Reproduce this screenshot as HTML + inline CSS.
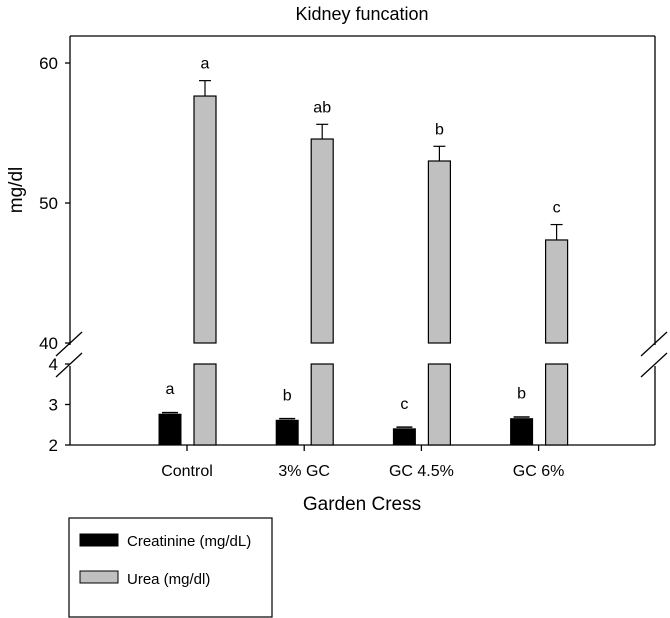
<!DOCTYPE html>
<html><head><meta charset="utf-8"><style>
html,body{margin:0;padding:0;background:#fff;}
svg{display:block;font-family:"Liberation Sans",Arial,sans-serif;}
</style></head><body>
<svg id="chart" width="670" height="618" viewBox="0 0 670 618">
<text x="362" y="20" text-anchor="middle" font-size="18">Kidney funcation</text>
<text transform="translate(22,190) rotate(-90)" text-anchor="middle" font-size="19">mg/dl</text>
<text x="362" y="510" text-anchor="middle" font-size="19">Garden Cress</text>
<g id="axes" stroke="#000" stroke-width="1.3" fill="none"></g>
<g id="marks"></g>
<g>
<rect x="69" y="518" width="203" height="99" fill="#fff" stroke="#000" stroke-width="1.2"/>
<rect x="80" y="534" width="38" height="12" fill="#000" stroke="#000"/>
<text x="127" y="546" font-size="15">Creatinine (mg/dL)</text>
<rect x="80" y="571" width="38" height="12" fill="#c0c0c0" stroke="#000"/>
<text x="127" y="584" font-size="15">Urea (mg/dl)</text>
</g>
</svg>
<script>
const categories = ["Control","3% GC","GC 4.5%","GC 6%"];
const creatinine = [2.76, 2.61, 2.40, 2.65];
const creatinineErr = [0.04, 0.04, 0.04, 0.04];
const creatinineLetters = ["a","b","c","b"];
const urea = [57.64, 54.57, 53.0, 47.36];
const ureaErr = [1.1, 1.05, 1.05, 1.1];
const ureaLetters = ["a","ab","b","c"];
const upperTicks = [40, 50, 60];
const lowerTicks = [2, 3, 4];

const NS = "http://www.w3.org/2000/svg";
const L = 70, R = 655, T = 36, B = 445;
function yUp(v){ return 343 - (v - 40) * 14; }
function yLo(v){ return 445 - (v - 2) * 40.5; }
function xCat(i){ return 187 + i * 117.2; }
function mk(tag, attrs, parent){ const e = document.createElementNS(NS, tag); for (const k in attrs) e.setAttribute(k, attrs[k]); parent.appendChild(e); return e; }
const axes = document.getElementById('axes');
const marks = document.getElementById('marks');
const svg = document.getElementById('chart');

let ln = mk('line',{x1:L,y1:T,x2:R,y2:T},axes);
 
ln = mk('line',{x1:L,y1:B,x2:R,y2:B},axes);
 
[L,R].forEach((x,j)=>{
  let a = mk('line',{x1:x,y1:T,x2:x,y2:345},axes);
   
  let b = mk('line',{x1:x,y1:366,x2:x,y2:B},axes);
   
  let s1 = mk('line',{x1:x-14,y1:356,x2:x+12,y2:332},axes);
   
  let s2 = mk('line',{x1:x-14,y1:377,x2:x+12,y2:353},axes);
   
});
upperTicks.forEach(v=>{
  const y = yUp(v);
  const t = mk('line',{x1:L-5,y1:y,x2:L,y2:y},axes);
   
  const tx = mk('text',{x:L-12,y:y+6,'text-anchor':'end','font-size':17},svg);
  tx.textContent = v;
   
});
lowerTicks.forEach(v=>{
  const y = yLo(v);
  const t = mk('line',{x1:L-5,y1:y,x2:L,y2:y},axes);
   
  const tx = mk('text',{x:L-12,y:y+6,'text-anchor':'end','font-size':17},svg);
  tx.textContent = v;
   
});
categories.forEach((c,i)=>{
  const x = xCat(i);
  const t = mk('line',{x1:x,y1:B,x2:x,y2:B+6},axes);
   
  const tx = mk('text',{x:x,y:476,'text-anchor':'middle','font-size':16},svg);
  tx.textContent = c;
   

  const cx = x - 28, w = 22;
  const cy = yLo(creatinine[i]);
  const cb = mk('rect',{x:cx,y:cy,width:w,height:B-cy,fill:'#000',stroke:'#000'},marks);
   
  const ce = yLo(creatinine[i]+creatinineErr[i]);
  const e1 = mk('line',{x1:cx+3,y1:ce,x2:cx+w-3,y2:ce,stroke:'#000','stroke-width':1.5},marks);
   
  const cl = mk('text',{x:cx+w/2,y:cy-20,'text-anchor':'middle','font-size':16},marks);
  cl.textContent = creatinineLetters[i];
   

  const ux = x + 7;
  const uy = yUp(urea[i]);
  const ub = mk('rect',{x:ux,y:uy,width:w,height:yUp(40)-uy,fill:'#c0c0c0',stroke:'#000','stroke-width':1.2},marks);
   
  const ul = mk('rect',{x:ux,y:yLo(4),width:w,height:B-yLo(4),fill:'#c0c0c0',stroke:'#000','stroke-width':1.2},marks);
   
  const ue = yUp(urea[i]+ureaErr[i]);
  const ev = mk('line',{x1:ux+w/2,y1:uy,x2:ux+w/2,y2:ue,stroke:'#000','stroke-width':1.2},marks);
   
  const ec = mk('line',{x1:ux+w/2-6,y1:ue,x2:ux+w/2+6,y2:ue,stroke:'#000','stroke-width':1.2},marks);
   
  const ut = mk('text',{x:ux+w/2,y:ue-12,'text-anchor':'middle','font-size':16},marks);
  ut.textContent = ureaLetters[i];
   
});
</script>
</body></html>
